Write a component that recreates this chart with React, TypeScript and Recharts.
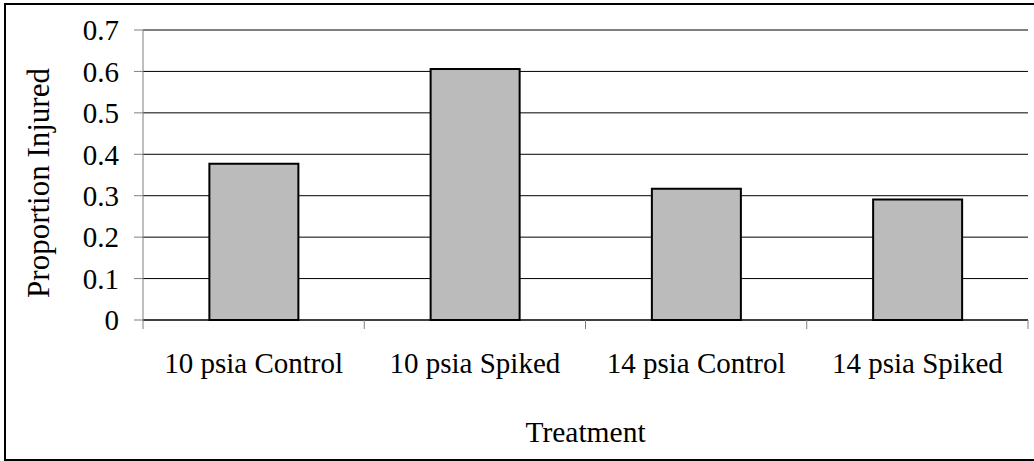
import React from 'react';
import { BarChart, Bar, XAxis, YAxis, CartesianGrid } from 'recharts';

// values
const treatments = ['10 psia Control', '10 psia Spiked', '14 psia Control', '14 psia Spiked'];
const proportionInjured = [0.377, 0.606, 0.317, 0.291];
const yTicks = [0, 0.1, 0.2, 0.3, 0.4, 0.5, 0.6, 0.7];

const data = treatments.map((t, i) => ({ treatment: t, value: proportionInjured[i] }));

const FONT = '"Liberation Serif", "Times New Roman", serif';
const X_TICK_MARGIN = 32;

// category labels, plus the little tick marks Excel draws between categories
const CategoryTick = (props: any) => {
  const { x, y, payload, index, visibleTicksCount } = props;
  const half = payload && payload.offset != null ? payload.offset : 110.6;
  const axisY = y - X_TICK_MARGIN;
  return (
    <g>
      <line x1={x - half} x2={x - half} y1={axisY} y2={axisY + 9} stroke="#808080" strokeWidth={1} />
      {index === visibleTicksCount - 1 && (
        <line x1={x + half} x2={x + half} y1={axisY} y2={axisY + 9} stroke="#808080" strokeWidth={1} />
      )}
      <text x={x} y={y + 21} textAnchor="middle" fontFamily={FONT} fontSize={29} fill="#000">
        {payload.value}
      </text>
    </g>
  );
};

const YTitle = (props: any) => {
  const vb = props.viewBox || {};
  const cx = 38;
  const cy = (vb.y ?? 30) + (vb.height ?? 290) / 2 + 8;
  return (
    <text
      x={cx}
      y={cy}
      transform={`rotate(-90, ${cx}, ${cy})`}
      textAnchor="middle"
      dominantBaseline="central"
      fontFamily={FONT}
      fontSize={31}
      fill="#000"
    >
      Proportion Injured
    </text>
  );
};

const XTitle = (props: any) => {
  const vb = props.viewBox || {};
  const cx = (vb.x ?? 143) + (vb.width ?? 885) / 2;
  return (
    <text x={cx} y={442} textAnchor="middle" fontFamily={FONT} fontSize={29.5} fill="#000">
      Treatment
    </text>
  );
};

export default function App() {
  return (
    <div style={{ position: 'absolute', left: 0, top: 0, width: 1034, height: 461, overflow: 'hidden', background: '#fff' }}>
      <div
        style={{
          position: 'absolute',
          left: 4,
          top: 3,
          width: 1040,
          height: 458,
          boxSizing: 'border-box',
          border: '2px solid #000',
        }}
      />
      <div style={{ position: 'absolute', left: 0, top: 0 }}>
        <BarChart
          width={1034}
          height={461}
          data={data}
          margin={{ top: 30, right: 6, bottom: 0, left: 0 }}
          barCategoryGap="30%"
        >
          <CartesianGrid horizontal vertical={false} stroke="#000" strokeWidth={1} />
          <XAxis
            dataKey="treatment"
            height={141}
            tickLine={false}
            tickSize={0}
            tickMargin={X_TICK_MARGIN}
            tick={<CategoryTick />}
            axisLine={{ stroke: '#000', strokeWidth: 1 }}
            interval={0}
            label={<XTitle />}
          />
          <YAxis
            width={143}
            domain={[0, 0.7]}
            ticks={yTicks}
            tickSize={9}
            tickMargin={15}
            tick={{ fontFamily: FONT, fontSize: 29, fill: '#000' }}
            tickLine={{ stroke: '#808080' }}
            axisLine={{ stroke: '#808080' }}
            interval={0}
            label={<YTitle />}
          />
          <Bar
            dataKey="value"
            fill="#BBBBBB"
            stroke="#000"
            strokeWidth={2}
            isAnimationActive={false}
          />
        </BarChart>
      </div>
    </div>
  );
}
